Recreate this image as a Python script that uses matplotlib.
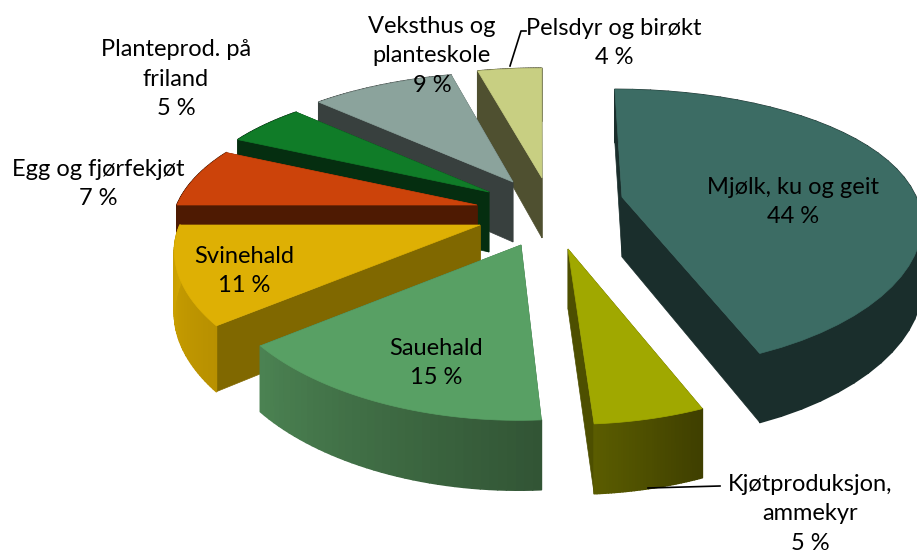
import numpy as np
import matplotlib
matplotlib.use("Agg")
from matplotlib import pyplot as plt
from matplotlib.collections import PolyCollection
from matplotlib.colors import to_rgb

names = ["Mjølk, ku og geit", "Kjøtproduksjon,\nammekyr", "Sauehald", "Svinehald",
         "Egg og fjørfekjøt", "Planteprod. på\nfriland", "Veksthus og\nplanteskole", "Pelsdyr og birøkt"]
values = [44, 5, 15, 11, 7, 5, 9, 4]

# look of each slice
top_col = ["#3c6c64", "#a0a800", "#58a064", "#deb004", "#cc430a", "#107c28", "#8ba39c", "#c8cf82"]
wall_col = ["#1a2e2c", "#4d4f00", "#3f6b46", "#806800", "#4e1a02", "#052e10", "#38403e", "#4f5030"]
rim_start = ["#1a2e2c", "#3f3f00", "#325535", "#b89000", "#4e1a02", "#052e10", "#38403e", "#4f5030"]
rim_end = ["#1a2e2c", "#5a5c00", "#4b8252", "#cfa400", "#4e1a02", "#052e10", "#38403e", "#4f5030"]
apex_x = [622, 568, 521, 480, 477, 489, 513, 542]
apex_y = [197, 249, 245, 225, 205, 192, 182, 178]
size = [0.98, 1, 1, 1, 1, 1, 1, 1]

label_x = [793, 810, 436, 244, 98, 176, 432, 614]
label_y = [202, 514, 363, 271, 184, 79, 56, 43]

RX, RY, PX, PY, DEPTH, VANISH, LEAN = 300, 135, 0.17, 0.23, 60, 540, 0.6


def project(i, t):
    sx = 1 / (1 + PX * np.cos(t))
    sy = 1 / (1 + PY * np.cos(t))
    x = apex_x[i] + size[i] * RX * np.sin(t) * sx + (apex_x[i] - VANISH) * (sx - 1) * LEAN
    y = apex_y[i] - size[i] * RY * np.cos(t) * sy
    return x, y, DEPTH * (1 + 0.8 * (sx - 1))


fig = plt.figure(figsize=(9.17, 5.53), dpi=100)
ax = fig.add_axes([0, 0, 1, 1])
ax.set_xlim(0, 917)
ax.set_ylim(553, 0)
ax.axis("off")

edges = np.cumsum([0] + values) / sum(values) * 2 * np.pi

for i in range(len(values) - 1, -1, -1):
    t = np.linspace(edges[i], edges[i + 1], 40)
    x, y, d = project(i, t)

    # the two cut faces, the one further back first
    faces = [0, -1] if y[0] < y[-1] else [-1, 0]
    for k in faces:
        ax.fill([apex_x[i], x[k], x[k], apex_x[i]],
                [apex_y[i], y[k], y[k] + d[k], apex_y[i] + DEPTH],
                color=wall_col[i], lw=0.5, zorder=i * -10)

    # outer rim with a shade across it
    c0, c1 = np.array(to_rgb(rim_start[i])), np.array(to_rgb(rim_end[i]))
    quads = []
    cols = []
    for k in range(len(t) - 1):
        quads.append([(x[k], y[k]), (x[k + 1], y[k + 1]),
                      (x[k + 1], y[k + 1] + d[k + 1]), (x[k], y[k] + d[k])])
        cols.append(c0 + (c1 - c0) * k / (len(t) - 2))
    ax.add_collection(PolyCollection(quads, facecolors=cols, edgecolors=cols, linewidths=1.2,
                                     zorder=i * -10 + 1))

    ax.fill(np.r_[apex_x[i], x], np.r_[apex_y[i], y], color=top_col[i], lw=0.5, zorder=i * -10 + 2)

for i in range(len(values)):
    ax.text(label_x[i], label_y[i], names[i] + "\n" + str(values[i]) + " %", ha="center", va="center",
            family="Lato", fontsize=17, color="black", linespacing=1.52, zorder=5)

# leader lines
ax.plot([648, 720], [488, 486], color="black", lw=1.2, zorder=4)
ax.plot([510, 521, 526], [66, 31, 31], color="black", lw=1.2, zorder=4)

plt.savefig("out.png", dpi=100)
